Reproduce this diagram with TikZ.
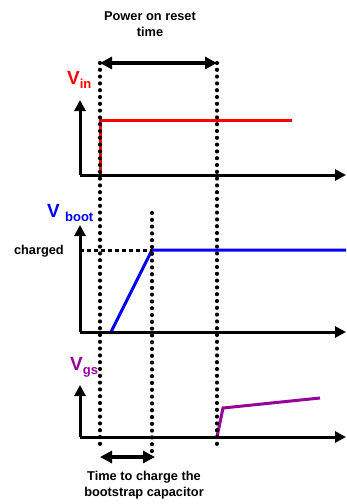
\documentclass[tikz,border=0pt]{standalone}
\usepackage{fontspec}
\setmainfont{Liberation Sans}
\usetikzlibrary{arrows.meta, positioning, decorations.markings}

\definecolor{sigpurple}{RGB}{153,0,153}

\begin{document}
\begin{tikzpicture}[
    x=1pt, y=-1pt,
    axis/.style={line width=3pt, -{Triangle[length=11pt, width=11pt]}},
    marker/.style={decoration={markings, mark=between positions 0 and 1 step 6.8pt with {\fill (0,0) circle [radius=2.1pt];}}, decorate},
    span/.style={line width=3.5pt, {Triangle[length=12pt, width=12pt]}-{Triangle[length=12pt, width=12pt]}},
    caption/.style={font=\bfseries\fontsize{12.8}{16}\selectfont, align=center, inner sep=0pt},
    vlabel/.style={font=\bfseries\fontsize{19}{19}\selectfont, anchor=base west, inner sep=0pt},
    sig/.style={line width=3pt}
]
\useasboundingbox (0,0) rectangle (346,504);

% Time marks
\coordinate (t0top) at (100,63);
\coordinate (t0bot) at (100,450);
\coordinate (t1top) at (152,213);
\coordinate (t1bot) at (152,455);
\coordinate (t2top) at (217,63);
\coordinate (t2bot) at (217,450);
\coordinate (c0) at (100,457);
\coordinate (c1) at (155,457);

% Vin
\coordinate (o1) at (80,175);
\coordinate (y1) at (80,100);
\coordinate (x1) at (346,175);
\coordinate (in0) at (100,175);
\coordinate (in1) at (100,120);
\coordinate (in2) at (292,120);
\node (vin) [vlabel, red] at (67,84) {V\raisebox{-4.5pt}{\fontsize{13}{13}\selectfont in}};

% Vboot
\coordinate (o2) at (80,332);
\coordinate (y2) at (80,225);
\coordinate (x2) at (346,332);
\coordinate (bt0) at (111,332);
\coordinate (bt1) at (152,250);
\coordinate (bt2) at (346,250);
\coordinate (lvl) at (80,250);
\node (vboot) [vlabel, blue] at (47,217) {V \raisebox{-4.5pt}{\fontsize{13}{13}\selectfont boot}};
\node (charged) [caption, anchor=base east] at (64,254) {charged};

% Vgs
\coordinate (o3) at (80,437);
\coordinate (y3) at (80,385);
\coordinate (x3) at (346,437);
\coordinate (gs0) at (217,437);
\coordinate (gs1) at (223,408);
\coordinate (gs2) at (320,398);
\node (vgs) [vlabel, sigpurple] at (70,370) {V\raisebox{-4.5pt}{\fontsize{13}{13}\selectfont gs}};

% Signals
\draw [sig, red] (in0) -- (in1) -- (in2);
\draw [sig, blue] (bt0) -- (bt1) -- (bt2);
\draw [sig, sigpurple] (gs0) -- (gs1) -- (gs2);
\draw [line width=3pt, dash pattern=on 4pt off 3pt] (lvl) -- (bt1);

% Axes
\draw [axis] (o1) -- (y1);
\draw [axis] (o1) -- (x1);
\draw [axis] (o2) -- (y2);
\draw [axis] (o2) -- (x2);
\draw [axis] (o3) -- (y3);
\draw [axis] (o3) -- (x3);

% Dotted time marks
\path [marker] (t0top) -- (t0bot);
\path [marker] (t1top) -- (t1bot);
\path [marker] (t2top) -- (t2bot);

% Spans and captions
\draw [span] (t0top) -- (t2top);
\draw [span] (c0) -- (c1);
\node (por) [caption] at (150,24) {Power on reset\\time};
\node (chg) [caption] at (144,485) {Time to charge the\\bootstrap capacitor};

\end{tikzpicture}
\end{document}
